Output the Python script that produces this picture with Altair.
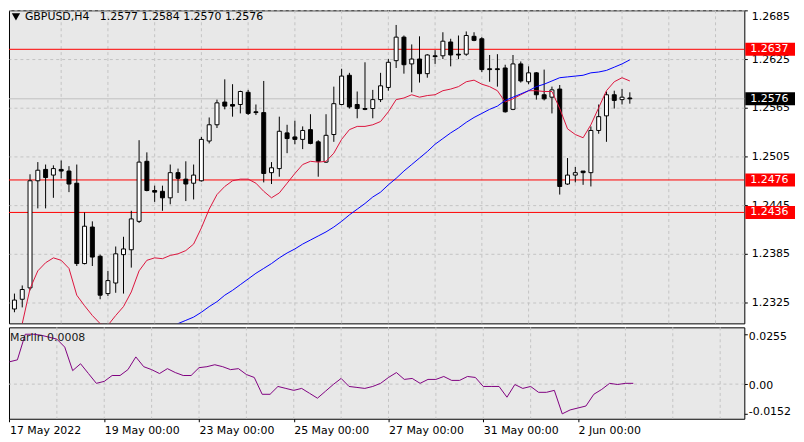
import altair as alt
import pandas as pd

# ---------------- data ----------------
bar_index = list(range(80))
opens = [1.2317, 1.2329, 1.2343, 1.2475, 1.2489, 1.2482, 1.2489, 1.2487, 1.2472, 1.2373,
         1.2418, 1.2382, 1.2336, 1.2349, 1.2384, 1.2390, 1.2425, 1.2499, 1.2463, 1.2462,
         1.2454, 1.2485, 1.2477, 1.2472, 1.2475, 1.2524, 1.2544, 1.2572, 1.2569, 1.2569,
         1.2584, 1.2560, 1.2559, 1.2485, 1.2490, 1.2534, 1.2529, 1.2526, 1.2538, 1.2523,
         1.2498, 1.2532, 1.2569, 1.2605, 1.2569, 1.2564, 1.2564, 1.2575, 1.2590, 1.2623,
         1.2652, 1.2619, 1.2625, 1.2607, 1.2629, 1.2629, 1.2646, 1.2631, 1.2631, 1.2653,
         1.2650, 1.2613, 1.2613, 1.2614, 1.2563, 1.2619, 1.2597, 1.2608, 1.2581, 1.2578,
         1.2588, 1.2471, 1.2482, 1.2487, 1.2485, 1.2537, 1.2555, 1.2581, 1.2575, 1.2577]
highs = [1.2336, 1.2346, 1.2483, 1.2498, 1.2495, 1.2494, 1.2500, 1.2493, 1.2495, 1.2436,
         1.2425, 1.2384, 1.2364, 1.2394, 1.2406, 1.2438, 1.2525, 1.2510, 1.2469, 1.2469,
         1.2495, 1.2490, 1.2499, 1.2495, 1.2529, 1.2553, 1.2575, 1.2600, 1.2594, 1.2586,
         1.2587, 1.2569, 1.2598, 1.2498, 1.2554, 1.2544, 1.2549, 1.2542, 1.2557, 1.2525,
         1.2557, 1.2591, 1.2613, 1.2608, 1.2585, 1.2621, 1.2587, 1.2608, 1.2625, 1.2667,
         1.2654, 1.2643, 1.2653, 1.2631, 1.2636, 1.2658, 1.2650, 1.2654, 1.2659, 1.2658,
         1.2652, 1.2630, 1.2631, 1.2618, 1.2630, 1.2622, 1.2616, 1.2609, 1.2612, 1.2591,
         1.2593, 1.2503, 1.2492, 1.2487, 1.2542, 1.2569, 1.2585, 1.2586, 1.2588, 1.2584]
lows = [1.2313, 1.2319, 1.2340, 1.2441, 1.2441, 1.2454, 1.2478, 1.2461, 1.2370, 1.2372,
        1.2370, 1.2329, 1.2333, 1.2337, 1.2336, 1.2368, 1.2423, 1.2462, 1.2449, 1.2438,
        1.2446, 1.2460, 1.2450, 1.2452, 1.2474, 1.2521, 1.2540, 1.2563, 1.2554, 1.2558,
        1.2556, 1.2556, 1.2473, 1.2471, 1.2480, 1.2509, 1.2520, 1.2514, 1.2520, 1.2480,
        1.2497, 1.2523, 1.2568, 1.2564, 1.2552, 1.2562, 1.2552, 1.2572, 1.2586, 1.2614,
        1.2607, 1.2584, 1.2596, 1.2602, 1.2619, 1.2625, 1.2616, 1.2625, 1.2629, 1.2647,
        1.2609, 1.2597, 1.2591, 1.2559, 1.2562, 1.2596, 1.2594, 1.2575, 1.2574, 1.2558,
        1.2458, 1.2470, 1.2473, 1.2470, 1.2468, 1.2533, 1.2523, 1.2564, 1.2569, 1.2570]
closes = [1.2328, 1.2341, 1.2475, 1.2488, 1.2479, 1.2490, 1.2487, 1.2471, 1.2373, 1.2419,
          1.2381, 1.2334, 1.2352, 1.2385, 1.2391, 1.2428, 1.2498, 1.2463, 1.2461, 1.2454,
          1.2485, 1.2478, 1.2471, 1.2482, 1.2526, 1.2544, 1.2571, 1.2567, 1.2567, 1.2585,
          1.2558, 1.2559, 1.2484, 1.2491, 1.2536, 1.2527, 1.2526, 1.2537, 1.2521, 1.2499,
          1.2531, 1.2570, 1.2604, 1.2566, 1.2564, 1.2563, 1.2575, 1.2592, 1.2621, 1.2652,
          1.2618, 1.2625, 1.2607, 1.2630, 1.2628, 1.2647, 1.2630, 1.2630, 1.2654, 1.2648,
          1.2612, 1.2612, 1.2612, 1.2560, 1.2619, 1.2598, 1.2608, 1.2581, 1.2576, 1.2587,
          1.2468, 1.2482, 1.2485, 1.2485, 1.2537, 1.2554, 1.2581, 1.2574, 1.2578, 1.2576]

red_line = [1.2285, 1.2299, 1.2342, 1.2364, 1.2374, 1.2380, 1.2377, 1.2367, 1.2334, 1.2321,
            1.2309, 1.2299, 1.2297, 1.2309, 1.2320, 1.2338, 1.2364, 1.2377, 1.2380, 1.2379,
            1.2383, 1.2385, 1.2389, 1.2397, 1.2417, 1.2440, 1.2458, 1.2468, 1.2475, 1.2477,
            1.2477, 1.2472, 1.2462, 1.2454, 1.2460, 1.2472, 1.2484, 1.2495, 1.2499, 1.2498,
            1.2499, 1.2509, 1.2526, 1.2538, 1.2542, 1.2542, 1.2544, 1.2548, 1.2560, 1.2575,
            1.2577, 1.2581, 1.2578, 1.2580, 1.2581, 1.2586, 1.2588, 1.2591, 1.2597, 1.2599,
            1.2594, 1.2591, 1.2586, 1.2572, 1.2576, 1.2581, 1.2586, 1.2586, 1.2585, 1.2585,
            1.2564, 1.2539, 1.2532, 1.2528, 1.2544, 1.2565, 1.2586, 1.2597, 1.2602, 1.2598]

blue_first_bar = 20
blue_line = [1.2293, 1.2299, 1.2303, 1.2307, 1.2313, 1.2320, 1.2326, 1.2334, 1.2340, 1.2347,
             1.2354, 1.2361, 1.2367, 1.2373, 1.2380, 1.2386, 1.2391, 1.2397, 1.2402, 1.2407,
             1.2412, 1.2418, 1.2425, 1.2433, 1.2440, 1.2447, 1.2455, 1.2461, 1.2470, 1.2478,
             1.2487, 1.2495, 1.2503, 1.2511, 1.2520, 1.2527, 1.2534, 1.2540, 1.2547, 1.2553,
             1.2558, 1.2563, 1.2567, 1.2574, 1.2578, 1.2582, 1.2586, 1.2591, 1.2594, 1.2598,
             1.2602, 1.2603, 1.2604, 1.2605, 1.2608, 1.2609, 1.2611, 1.2615, 1.2619, 1.2624]

marlin = [0.0114, 0.0124, 0.0255, 0.0255, 0.0250, 0.0240, 0.0230, 0.0189, 0.0069, 0.0104,
          0.0054, 0.0004, 0.0014, 0.0044, 0.0044, 0.0074, 0.0139, 0.0089, 0.0074, 0.0054,
          0.0079, 0.0059, 0.0044, 0.0044, 0.0084, 0.0089, 0.0099, 0.0089, 0.0074, 0.0079,
          0.0049, 0.0034, -0.0052, -0.0052, -0.0012, -0.0022, -0.0032, -0.0022, -0.0047, -0.0072,
          -0.0037, -0.0002, 0.0029, -0.0012, -0.0017, -0.0022, -0.0012, 0.0004, 0.0034, 0.0059,
          0.0024, 0.0029, 0.0004, 0.0024, 0.0024, 0.0039, 0.0019, 0.0019, 0.0039, 0.0034,
          -0.0012, -0.0012, -0.0012, -0.0067, -0.0002, -0.0022, -0.0012, -0.0042, -0.0042, -0.0032,
          -0.0152, -0.0132, -0.0122, -0.0112, -0.0052, -0.0027, 0.0004, -0.0002, 0.0004, 0.0004]

level_prices = [1.2637, 1.2476, 1.2436]
price_ticks = [1.2325, 1.2385, 1.2445, 1.2505, 1.2565, 1.2625, 1.2685]
ind_ticks = [-0.0152, 0.0, 0.0255]
date_ticks = [0, 12, 24, 36, 48, 60, 72]
date_labels = ["17 May 2022", "19 May 00:00", "23 May 00:00", "25 May 00:00",
               "27 May 00:00", "31 May 00:00", "2 Jun 00:00"]
grid_bars = list(range(6, 91, 6))
symbol = "GBPUSD,H4"
indicator_label = "Marlin 0.0008"

# ---------------- tables ----------------
cdf = pd.DataFrame({"bar": bar_index, "open": opens, "high": highs, "low": lows, "close": closes})
rdf = pd.DataFrame({"bar": bar_index, "red": red_line})
bdf = pd.DataFrame({"bar": list(range(blue_first_bar, blue_first_bar + len(blue_line))), "blue": blue_line})
mdf = pd.DataFrame({"bar": bar_index, "m": marlin})
gdf = pd.DataFrame({"bar": grid_bars})
last_price = closes[-1]
lv_df = pd.DataFrame({
    "price": level_prices + [last_price],
    "line": ["#ff0000"] * len(level_prices) + ["#c0c0c0"],
    "box": ["#ff0000"] * len(level_prices) + ["#000000"],
    "label": [f"{p:.4f}" for p in level_prices + [last_price]],
})
title_text = symbol + "\u00a0\u00a0 " + " ".join(
    f"{v:.4f}" for v in (opens[-1], highs[-1], lows[-1], closes[-1]))

# ---------------- styling ----------------
FONT = "DejaVu Sans"
GRID = "#c4c4c4"
W, H_MAIN, H_IND = 740, 315, 92

xs = alt.Scale(domain=[-0.0625, 93.06], nice=False, zero=False)
ys = alt.Scale(domain=[1.22993, 1.2685], nice=False, zero=False)
yi = alt.Scale(domain=[-0.01771, 0.02902], nice=False, zero=False)

y_axis = alt.Axis(orient="right", values=price_ticks, format=".4f", title=None,
                  grid=True, gridColor=GRID, gridDash=[3, 3], tickSize=3,
                  labelPadding=4, labelFlush=True, labelOverlap=False, domain=False)
x_none = alt.X("bar:Q", scale=xs, axis=None)


def Y(field):
    return alt.Y(f"{field}:Q", scale=ys, axis=y_axis)


label_array = "[" + ",".join(f"'{s}'" for s in date_labels) + "]"
x_axis = alt.Axis(values=date_ticks, labelExpr=f"{label_array}[round(datum.value / 12)]",
                  labelAlign="left", tickSize=3, labelPadding=3, grid=False, domain=False,
                  title=None, labelFlush=False, labelOverlap=False)
yi_axis = alt.Axis(orient="right", values=ind_ticks, title=None, grid=False, tickSize=3,
                   labelPadding=1, domain=False, labelOverlap=False,
                   labelExpr="datum.value == 0 ? '0.00' : (datum.value < 0 ? '-' + format(-datum.value, '.4f') : format(datum.value, '.4f'))",
                   labelOffset={"condition": [{"test": "datum.value > 0.02", "value": 2},
                                              {"test": "datum.value < -0.01", "value": -2}],
                                "value": 1})
x_ind = alt.X("bar:Q", scale=xs, axis=x_axis)

# ---------------- main pane ----------------
vgrid = alt.Chart(gdf).mark_rule(color=GRID, strokeDash=[3, 3], strokeWidth=1).encode(x=x_none)
level_lines = alt.Chart(lv_df).mark_rule(strokeWidth=1).encode(
    y=Y("price"), color=alt.Color("line:N", scale=None))
wicks = alt.Chart(cdf).mark_rule(color="black", strokeWidth=1).encode(
    x=x_none, y=Y("low"), y2="high")
bodies = alt.Chart(cdf).mark_bar(size=4, stroke="black", strokeWidth=1).encode(
    x=x_none, y=Y("open"), y2="close",
    fill=alt.condition("datum.close >= datum.open", alt.value("white"), alt.value("black")))
red = alt.Chart(rdf).mark_line(color="#dc143c", strokeWidth=1, clip=True).encode(x=x_none, y=Y("red"))
blue = alt.Chart(bdf).mark_line(color="#0000ff", strokeWidth=1, clip=True).encode(x=x_none, y=Y("blue"))
boxes = alt.Chart(lv_df).mark_rect(yOffset=-6.5, y2Offset=6.5).encode(
    x=alt.value(741), x2=alt.value(791), y=Y("price"), y2="price",
    color=alt.Color("box:N", scale=None))
box_text = alt.Chart(lv_df).mark_text(align="left", baseline="middle", font=FONT,
                                      fontSize=11, color="white").encode(
    x=alt.value(746), y=Y("price"), text="label:N")
title = alt.Chart(pd.DataFrame({"t": [title_text]})).mark_text(
    align="left", baseline="middle", font=FONT, fontSize=11, color="black").encode(
    x=alt.value(16), y=alt.value(7), text="t:N")
tri = alt.Chart(pd.DataFrame({"t": [0]})).mark_point(
    shape="triangle-down", filled=True, color="black", size=70, opacity=1).encode(
    x=alt.value(7), y=alt.value(6.5))

main = alt.layer(vgrid, level_lines, wicks, bodies, red, blue, boxes, box_text, title, tri).properties(
    width=W, height=H_MAIN)

# ---------------- indicator pane ----------------
vgrid2 = alt.Chart(gdf).mark_rule(color=GRID, strokeDash=[3, 3], strokeWidth=1).encode(x=x_ind)
zero_rule = alt.Chart(pd.DataFrame({"v": [0.0]})).mark_rule(
    color=GRID, strokeDash=[3, 3], strokeWidth=1).encode(y=alt.Y("v:Q", scale=yi, axis=yi_axis))
purple = alt.Chart(mdf).mark_line(color="#800080", strokeWidth=1, clip=True).encode(
    x=x_ind, y=alt.Y("m:Q", scale=yi, axis=yi_axis))
mtext = alt.Chart(pd.DataFrame({"t": [indicator_label]})).mark_text(
    align="left", baseline="middle", font=FONT, fontSize=11, color="#1a1a1a").encode(
    x=alt.value(1), y=alt.value(11), text="t:N")

ind = alt.layer(vgrid2, zero_rule, purple, mtext).properties(width=W, height=H_IND)

chart = (
    alt.vconcat(main, ind, spacing=2)
    .resolve_scale(x="independent", y="independent")
    .properties(padding=0, background="white")
    .configure_view(stroke="black", strokeWidth=1, fill="#e8e8e8")
    .configure_axis(labelFont=FONT, labelFontSize=11, labelColor="black",
                    tickColor="black", tickWidth=1)
)

chart.save("out.html", embed_options={"renderer": "svg", "actions": False})
